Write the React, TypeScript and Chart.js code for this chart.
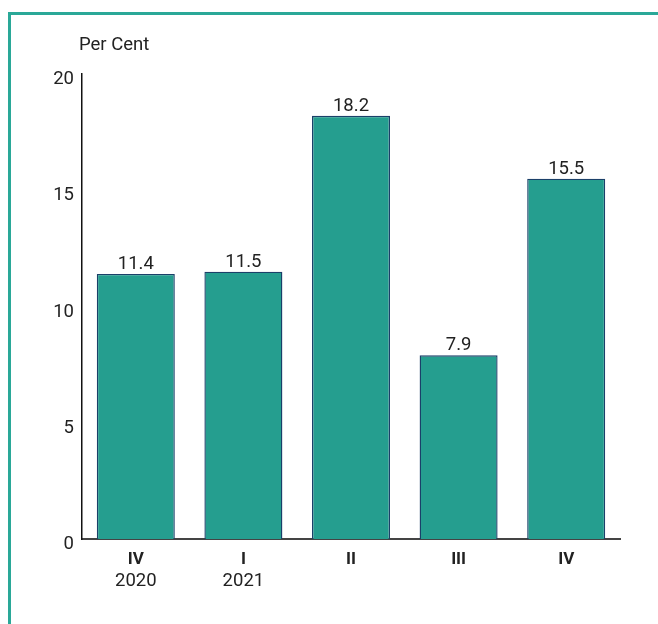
import React, { useEffect, useRef } from "react";
import { Chart, registerables } from "chart.js";

Chart.register(...registerables);

const quarters = ["IV", "I", "II", "III", "IV"];
const years = ["2020", "2021", "", "", ""];
const values = [11.4, 11.5, 18.2, 7.9, 15.5];
const yTicks = [0, 5, 10, 15, 20];
const unitLabel = "Per Cent";

const FONT = "Roboto, 'Noto Sans', sans-serif";
const TEXT = "#222222";
const FRAME = "#2aa898";

const overlay = {
  id: "overlay",
  afterDraw(chart: any) {
    const ctx = chart.ctx as CanvasRenderingContext2D;
    const x = chart.scales.x;
    const y = chart.scales.y;
    ctx.save();
    // frame
    ctx.fillStyle = FRAME;
    ctx.fillRect(8, 12, 650, 3);
    ctx.fillRect(8, 12, 3, 612);
    ctx.fillStyle = TEXT;
    // unit label
    ctx.font = `18.5px ${FONT}`;
    ctx.textAlign = "left";
    ctx.textBaseline = "alphabetic";
    ctx.fillText(unitLabel, 79, 50);
    // y tick labels
    ctx.textAlign = "right";
    yTicks.forEach((t) => {
      ctx.fillText(String(t), 74, y.getPixelForValue(t) + 10);
    });
    // data labels
    ctx.textAlign = "center";
    const meta = chart.getDatasetMeta(0);
    meta.data.forEach((bar: any, i: number) => {
      ctx.fillText(values[i].toFixed(1), bar.x, bar.y - 5);
    });
    // x labels
    quarters.forEach((q, i) => {
      const px = x.getPixelForValue(i);
      ctx.font = `bold 17px ${FONT}`;
      ctx.fillText(q, px, 564);
      if (years[i]) {
        ctx.font = `18.5px ${FONT}`;
        ctx.fillText(years[i], px, 586);
      }
    });
    ctx.restore();
  },
};

export default function App() {
  const ref = useRef<HTMLCanvasElement | null>(null);
  useEffect(() => {
    if (!ref.current) return;
    const chart = new Chart(ref.current, {
      type: "bar",
      data: {
        labels: quarters,
        datasets: [
          {
            data: values,
            backgroundColor: "#259e8f",
            borderColor: "#1b4069",
            borderWidth: 1.4,
            barPercentage: 0.725,
            categoryPercentage: 1,
          },
        ],
      },
      options: {
        animation: false,
        responsive: false,
        maintainAspectRatio: false,
        layout: { padding: { left: 74, right: 38, top: 74, bottom: 77 } },
        plugins: { legend: { display: false }, tooltip: { enabled: false } },
        scales: {
          x: {
            grid: { display: false },
            ticks: { display: false },
            border: { display: true, color: "#444444", width: 2 },
          },
          y: {
            min: 0,
            max: 20,
            grid: { display: false },
            ticks: { display: false },
            border: { display: true, color: "#111111", width: 1.5 },
          },
        },
      },
      plugins: [overlay],
    });
    return () => chart.destroy();
  }, []);
  return (
    <div style={{ position: "absolute", left: 0, top: 0, width: 658, height: 624 }}>
      <canvas ref={ref} width={658} height={624} style={{ display: "block" }} />
    </div>
  );
}
